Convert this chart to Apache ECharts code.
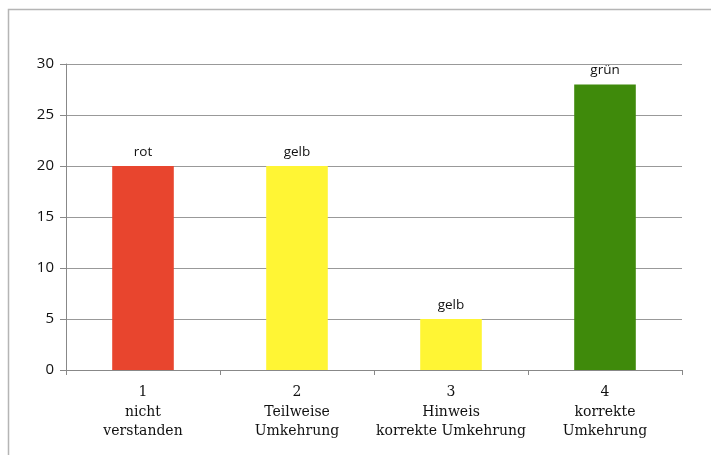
<!DOCTYPE html>
<html>
<head>
<meta charset="utf-8">
<script src="https://cdn.jsdelivr.net/npm/echarts@6/dist/echarts.min.js"></script>
<style>
html,body{margin:0;padding:0;background:#fff;}
#chart{width:711px;height:455px;}
</style>
</head>
<body>
<div id="chart"></div>
<script>
// Daten
var categories = ['1\nnicht\nverstanden', '2\nTeilweise\nUmkehrung', '3\nHinweis\nkorrekte Umkehrung', '4\nkorrekte\nUmkehrung'];
var values = [20, 20, 5, 28];
var barLabels = ['rot', 'gelb', 'gelb', 'grün'];
var barColors = ['#e8452e', '#fff534', '#fff534', '#3f8a0b'];
var yTicks = [0, 5, 10, 15, 20, 25, 30];

var chart = echarts.init(document.getElementById('chart'));

var option = {
    animation: false,
    backgroundColor: '#fff',
    graphic: [{
        type: 'rect',
        shape: {x: 8.5, y: 9.5, width: 720, height: 460},
        style: {fill: 'none', stroke: '#b5b5b5', lineWidth: 1.5}
    }],
    grid: {
        left: 66,
        right: 29,
        top: 64,
        bottom: 85
    },
    xAxis: {
        type: 'category',
        data: categories,
        axisLine: {lineStyle: {color: '#888', width: 1}},
        axisTick: {show: true, alignWithLabel: false, length: 5, lineStyle: {color: '#888'}},
        axisLabel: {
            interval: 0,
            color: '#111',
            fontFamily: 'DejaVu Serif',
            fontSize: 14,
            lineHeight: 19.5,
            margin: 13
        }
    },
    yAxis: {
        type: 'value',
        min: 0,
        max: 30,
        interval: 5,
        axisLine: {show: true, lineStyle: {color: '#888'}},
        axisTick: {show: true, length: 6, lineStyle: {color: '#888'}},
        splitLine: {lineStyle: {color: '#999', width: 1}},
        axisLabel: {
            color: '#111',
            fontFamily: 'Open Sans',
            fontSize: 15,
            margin: 12,
            formatter: function (v) { return yTicks.indexOf(v) >= 0 ? String(v) : ''; }
        }
    },
    series: [{
        type: 'bar',
        barWidth: '40%',
        data: values.map(function (v, i) {
            return {value: v, itemStyle: {color: barColors[i]}};
        }),
        label: {
            show: true,
            position: 'top',
            distance: 7,
            color: '#111',
            fontFamily: 'Open Sans',
            fontSize: 13.5,
            formatter: function (p) { return barLabels[p.dataIndex]; }
        }
    }]
};

chart.setOption(option);
</script>
</body>
</html>
